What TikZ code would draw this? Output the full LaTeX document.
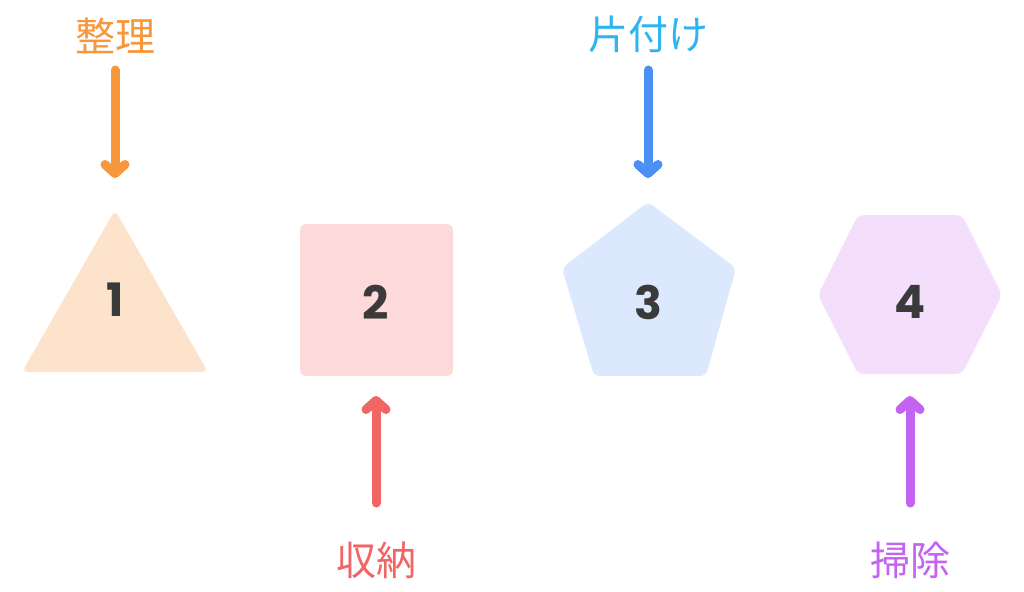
\documentclass[tikz,border=0pt]{standalone}
\usepackage{fontspec}
\newfontfamily\cjk{Noto Sans CJK JP}
\newfontfamily\num{Poppins}
\usetikzlibrary{arrows.meta}
\definecolor{cO}{HTML}{F7963A}\definecolor{cR}{HTML}{F26565}
\definecolor{cB}{HTML}{4C90F5}\definecolor{cC}{HTML}{2EB5F0}
\definecolor{cP}{HTML}{C462F2}
\definecolor{fO}{HTML}{FDE3CC}\definecolor{fR}{HTML}{FDDADA}
\definecolor{fB}{HTML}{DCE8FD}\definecolor{fP}{HTML}{F3DEFC}
\definecolor{txt}{HTML}{3A3A3A}
\begin{document}
\begin{tikzpicture}[x=1pt,y=-1pt,
 shp/.style={rounded corners=6pt},
 arr/.style={line width=9pt,line cap=round,-{Straight Barb[length=9pt,width=20pt,line cap=round,line join=round]}},
 lab/.style={font=\cjk\fontsize{40}{40}\selectfont},
 num/.style={font=\num\bfseries\fontsize{46}{46}\selectfont,text=txt}]
\useasboundingbox (0,0) rectangle (1024,591);
\fill[fO,shp] (115,210) -- (208,372) -- (22,372) -- cycle;
\fill[fR,shp] (300,224) rectangle (453,376);
\fill[fB,shp] (648,202) -- (736,268) -- (706,376) -- (594,376) -- (562,268) -- cycle;
\fill[fP,shp] (818,295) -- (858,215) -- (962,215) -- (1002,295) -- (962,374) -- (858,374) -- cycle;
\node[num] (n1) at (115,300) {1};
\node[num] (n2) at (376,302) {2};
\node[num] (n3) at (648,302) {3};
\node[num] (n4) at (910,302) {4};
\node[lab,text=cO] (l1) at (115,36) {整理};
\node[lab,text=cR] (l2) at (376,560) {収納};
\node[lab,text=cC] (l3) at (648,34) {片付け};
\node[lab,text=cP] (l4) at (910,560) {掃除};
\coordinate (a1s) at (115,70); \coordinate (a1e) at (115,178);
\coordinate (a2s) at (376,503); \coordinate (a2e) at (376,396);
\coordinate (a3s) at (648,70); \coordinate (a3e) at (648,178);
\coordinate (a4s) at (910,503); \coordinate (a4e) at (910,396);
\draw[arr,cO] (a1s) -- (a1e);
\draw[arr,cR] (a2s) -- (a2e);
\draw[arr,cB] (a3s) -- (a3e);
\draw[arr,cP] (a4s) -- (a4e);
\end{tikzpicture}
\end{document}
